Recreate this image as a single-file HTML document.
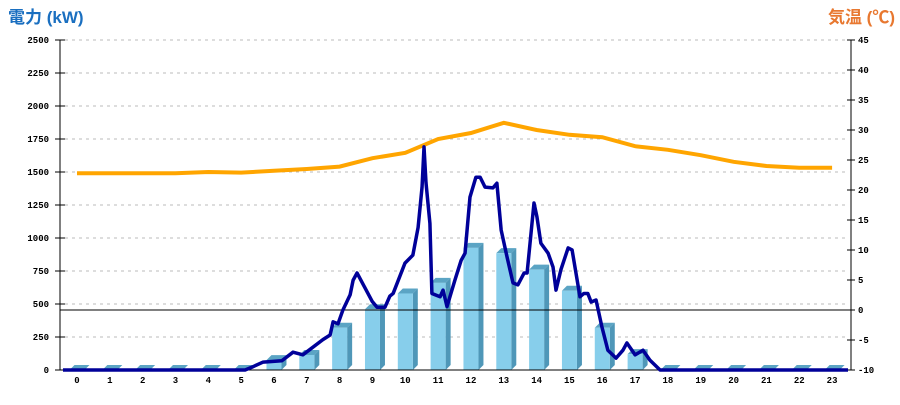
<!DOCTYPE html>
<html><head><meta charset="utf-8"><style>
body{margin:0;background:#fff;width:900px;height:400px;overflow:hidden}
svg text{font-family:"Liberation Mono",monospace;font-size:9px;font-weight:bold;fill:#000}
</style></head><body>
<svg id="chart" width="900" height="400" xmlns="http://www.w3.org/2000/svg">
<text x="8" y="23" style="font-family:'Liberation Sans','Noto Sans CJK JP',sans-serif;font-size:17px;font-weight:bold;fill:#1a6fc0">電力 (kW)</text>
<text x="895" y="23" text-anchor="end" style="font-family:'Liberation Sans','Noto Sans CJK JP',sans-serif;font-size:17px;font-weight:bold;fill:#e87830">気温 (℃)</text>
<g id="grid"></g><g id="bars"></g><g id="axes"></g><g id="lines"></g>
</svg>
<script>
const hours=[0,1,2,3,4,5,6,7,8,9,10,11,12,13,14,15,16,17,18,19,20,21,22,23];
const barValues=[0,0,0,0,0,0,75,114,320,460,580,660,925,885,760,600,320,120,0,0,0,0,0,0];
const tempValues=[22.8,22.8,22.8,22.8,23,22.9,23.2,23.5,23.9,25.3,26.2,28.5,29.5,31.2,30,29.2,28.8,27.3,26.7,25.8,24.7,24,23.7,23.7];
const powerTimes=[-0.5,5.0,5.12,5.36,5.67,6.24,6.58,6.88,7.49,7.71,7.8,7.95,8.1,8.32,8.41,8.53,8.99,9.14,9.38,9.53,9.63,9.99,10.23,10.39,10.51,10.57,10.63,10.75,10.81,11.06,11.15,11.27,11.51,11.7,11.82,11.97,12.15,12.28,12.43,12.67,12.79,12.92,13.1,13.28,13.43,13.62,13.71,13.92,14.01,14.13,14.35,14.5,14.59,14.74,14.96,15.08,15.32,15.44,15.56,15.66,15.81,15.99,16.17,16.42,16.63,16.75,17.0,17.24,17.45,17.76,23.5];
const powerValues=[0,0,0,25,60,70,135,115,230,265,365,350,455,570,680,735,520,475,475,560,580,810,870,1080,1385,1690,1420,1110,580,555,605,480,680,830,885,1310,1460,1460,1385,1380,1415,1060,855,660,645,735,735,1265,1160,960,885,780,605,760,925,910,555,580,580,515,530,325,150,90,150,205,115,150,75,0,0];
const leftTicks=[0,250,500,750,1000,1250,1500,1750,2000,2250,2500];
const rightTicks=[-10,-5,0,5,10,15,20,25,30,35,40,45];
const NS="http://www.w3.org/2000/svg";
const X0=60,X1=851,Y0=370,Y1=40;
const xS=h=>77+h*32.83;
const yL=v=>Y0-(v/2500)*(Y0-Y1);
const yR=t=>Y0-((t+10)/55)*(Y0-Y1);
function mk(tag,attrs,parent){const e=document.createElementNS(NS,tag);for(const k in attrs)e.setAttribute(k,attrs[k]);parent.appendChild(e);return e;}
const grid=document.getElementById('grid'),bars=document.getElementById('bars'),axes=document.getElementById('axes'),lines=document.getElementById('lines');
leftTicks.forEach(v=>{
  if(v>0){const g=mk('line',{x1:X0+5,x2:X1-5,y1:yL(v),y2:yL(v),stroke:'#bbb','stroke-dasharray':'3,4'},grid);
  
  }
  mk('line',{x1:X0-5,x2:X0+5,y1:yL(v),y2:yL(v),stroke:'#000'},axes);
  const t=mk('text',{x:49,y:yL(v)+3,'text-anchor':'end'},axes);t.textContent=v;
  
  
});
rightTicks.forEach(v=>{
  mk('line',{x1:X1-4,x2:X1+4,y1:yR(v),y2:yR(v),stroke:'#000'},axes);
  const t=mk('text',{x:858,y:yR(v)+3},axes);t.textContent=v;
  
  
});
hours.forEach((h,i)=>{
  const cx=xS(h),v=barValues[i],top=yL(v),g=mk('g',{},bars);
  
  
  mk('polygon',{points:`${cx-7.5},${top} ${cx-2.5},${top-5} ${cx+12.5},${top-5} ${cx+7.5},${top}`,fill:'#5ba4c4'},g);
  mk('polygon',{points:`${cx+7.5},${top} ${cx+12.5},${top-5} ${cx+12.5},${Y0-5} ${cx+7.5},${Y0}`,fill:'#4f97b8'},g);
  mk('rect',{x:cx-7.5,y:top,width:15,height:Math.max(0,Y0-top),fill:'#87ceeb'},g);
  const t=mk('text',{x:cx,y:383,'text-anchor':'middle'},axes);t.textContent=h;
  
  
});
mk('line',{x1:X0,x2:X0,y1:Y1,y2:Y0,stroke:'#000'},axes);
mk('line',{x1:X1,x2:X1,y1:Y1,y2:Y0,stroke:'#000'},axes);
mk('line',{x1:X0,x2:X1,y1:Y0,y2:Y0,stroke:'#000'},axes);
const zl=mk('line',{x1:X0,x2:X1,y1:yR(0),y2:yR(0),stroke:'#000'},axes);


const tp=mk('polyline',{points:hours.map((h,i)=>xS(h)+','+yR(tempValues[i])).join(' '),fill:'none',stroke:'#ffa500','stroke-width':4},lines);


const pp=mk('polyline',{points:powerTimes.map((h,i)=>Math.max(X0+3,Math.min(X1-3,xS(h)))+','+yL(powerValues[i])).join(' '),fill:'none',stroke:'#000099','stroke-width':3.5,'stroke-linejoin':'round'},lines);


</script>
</body></html>
